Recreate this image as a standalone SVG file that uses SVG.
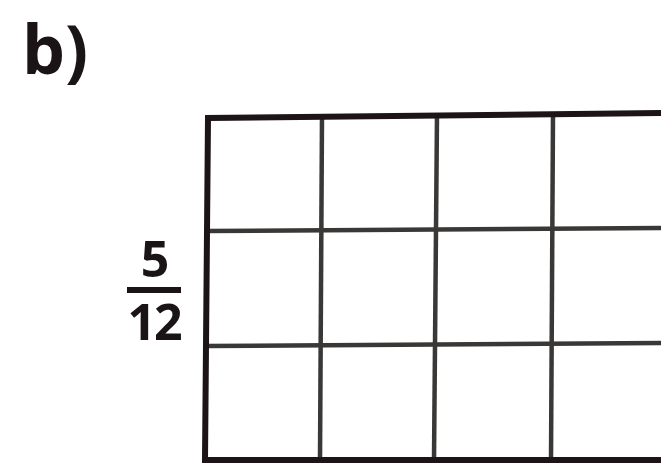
<svg xmlns="http://www.w3.org/2000/svg" width="661" height="463" viewBox="0 0 661 463">
<style>
.t{font-family:"Open Sans","Liberation Sans",sans-serif;font-weight:bold;fill:#1a1416}
.o{stroke:#1c1416;stroke-width:6;fill:none}
.i{stroke:#3a3836;stroke-width:4.5;fill:none}
</style>
<rect width="661" height="463" fill="#ffffff"/>
<g id="label"><text class="t" x="22" y="74" font-size="68">b)</text></g>
<g id="fraction">
<text class="t" x="155" y="277" font-size="50" text-anchor="middle">5</text>
<line x1="127" y1="290" x2="181" y2="290" stroke="#1a1416" stroke-width="6"/>
<text class="t" x="154" y="340" font-size="50" text-anchor="middle" letter-spacing="-2">12</text>
</g>
<g id="grid">
<line class="i" x1="322" y1="116" x2="320" y2="460"/>
<line class="i" x1="437" y1="115" x2="434" y2="460"/>
<line class="i" x1="553" y1="114" x2="551" y2="460"/>
<line class="i" x1="206" y1="231" x2="661" y2="228"/>
<line class="i" x1="206" y1="346" x2="661" y2="343"/>
<path class="o" d="M661 113 L208 118 L205 460 L661 460"/>
</g>
</svg>
